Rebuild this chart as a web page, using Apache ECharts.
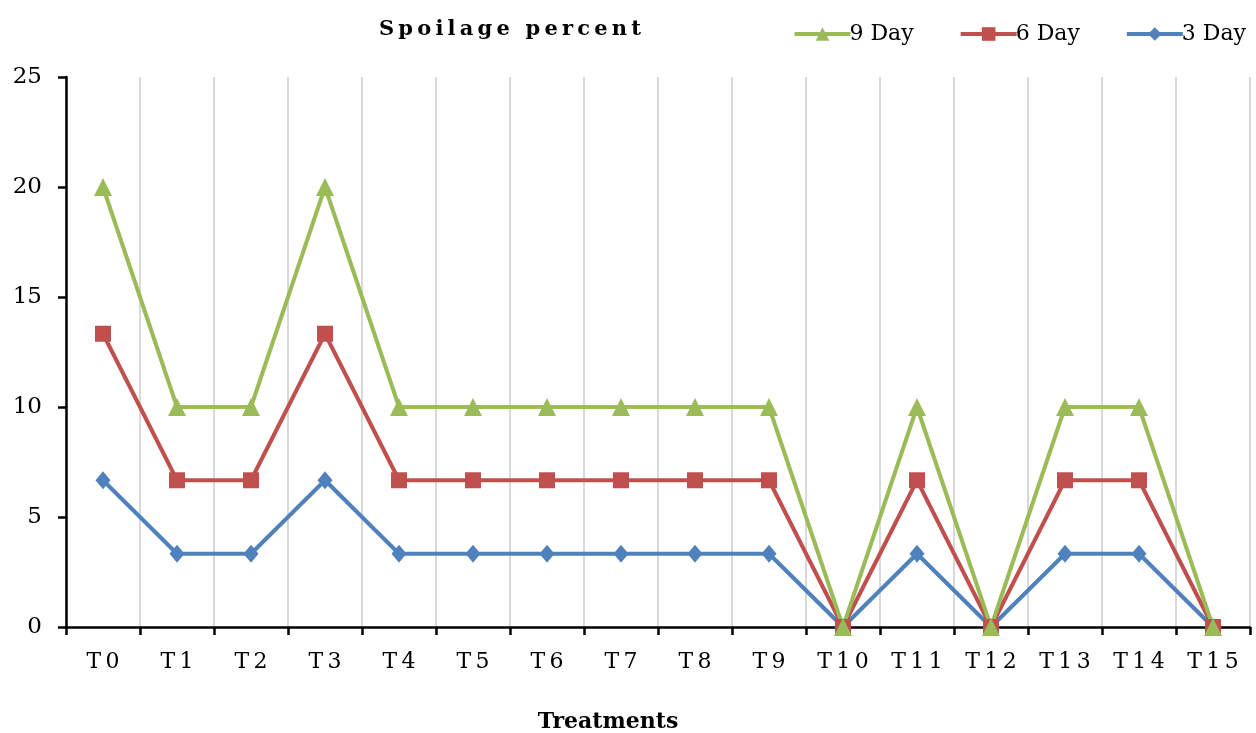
<!DOCTYPE html>
<html><head><meta charset="utf-8">
<script src="https://cdn.jsdelivr.net/npm/echarts@6/dist/echarts.min.js"></script>
<style>html,body{margin:0;padding:0;background:#fff}#c{width:1256px;height:733px}</style>
</head><body><div id="c"></div>
<script>
const categories = ['T0','T1','T2','T3','T4','T5','T6','T7','T8','T9','T10','T11','T12','T13','T14','T15'];
const day9 = [20,10,10,20,10,10,10,10,10,10,0,10,0,10,10,0];
const day6 = [13.33,6.67,6.67,13.33,6.67,6.67,6.67,6.67,6.67,6.67,0,6.67,0,6.67,6.67,0];
const day3 = [6.67,3.33,3.33,6.67,3.33,3.33,3.33,3.33,3.33,3.33,0,3.33,0,3.33,3.33,0];
const yTicks = [0,5,10,15,20,25];

const FONT = '"DejaVu Serif", "Liberation Serif", serif';
const spaced = s => s.split('').join('\u2009');

const chart = echarts.init(document.getElementById('c'), null, {renderer:'canvas'});
chart.setOption({
  animation:false,
  backgroundColor:'#fff',
  title:{text:spaced('Spoilage percent'), left:374, top:14,
    textStyle:{fontFamily:FONT, fontWeight:'bold', fontSize:21, color:'#000'}},
  legend:{right:5, top:18, itemWidth:56, itemHeight:17, itemGap:45,
    data:[
      {name:'9 Day', lineStyle:{width:4}},
      {name:'6 Day', lineStyle:{width:4}},
      {name:'3 Day', lineStyle:{width:4}}
    ],
    textStyle:{fontFamily:FONT, fontSize:22, color:'#000', padding:[0,0,0,-6]}},
  grid:{left:66, right:6, top:77, bottom:106, containLabel:false, outerBoundsMode:'none'},
  xAxis:{type:'category', data:categories, boundaryGap:true,
    name:'Treatments', nameLocation:'middle', nameGap:84,
    nameTextStyle:{fontFamily:FONT, fontWeight:'bold', fontSize:22, color:'#000', padding:[0,100,0,0]},
    axisLine:{lineStyle:{color:'#000', width:2.5}},
    axisTick:{show:true, alignWithLabel:false, length:8, lineStyle:{color:'#000', width:2.5}},
    axisLabel:{fontFamily:FONT, fontSize:22, color:'#000', margin:24, formatter:v=>spaced(v)},
    splitLine:{show:true, lineStyle:{color:'#d9d9d9', width:2}}},
  yAxis:{type:'value', min:yTicks[0], max:yTicks[yTicks.length-1], interval:5,
    axisLine:{show:true, lineStyle:{color:'#000', width:2.5}},
    axisTick:{show:true, length:8, lineStyle:{color:'#000', width:2.5}},
    axisLabel:{fontFamily:FONT, fontSize:23, color:'#000', margin:24},
    splitLine:{show:false}},
  series:[
    {name:'3 Day', type:'line', data:day3, symbol:'diamond', symbolSize:[15,18],
      lineStyle:{color:'#4F81BD', width:4}, itemStyle:{color:'#4F81BD'}},
    {name:'6 Day', type:'line', data:day6, symbol:'rect', symbolSize:16,
      lineStyle:{color:'#C0504D', width:4}, itemStyle:{color:'#C0504D'}},
    {name:'9 Day', type:'line', data:day9, symbol:'triangle', symbolSize:18,
      lineStyle:{color:'#9BBB59', width:4}, itemStyle:{color:'#9BBB59'}}
  ]
});
</script></body></html>
